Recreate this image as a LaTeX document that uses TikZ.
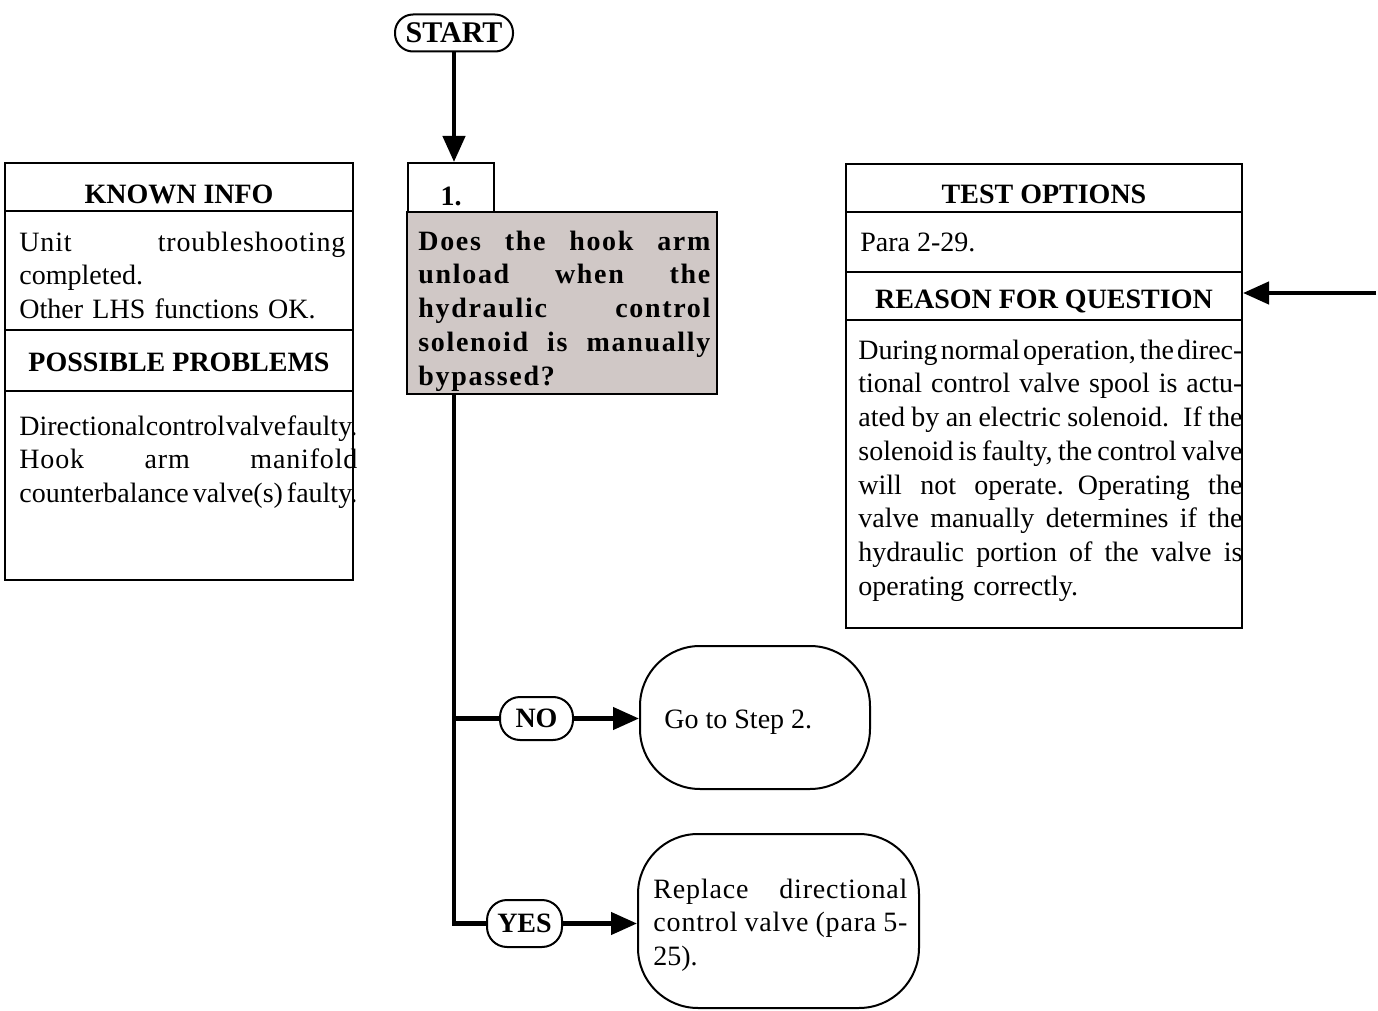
\documentclass[tikz,border=0pt]{standalone}
\usepackage{fontspec}
\setmainfont{Liberation Serif}
\newfontfamily\spacedfont[LetterSpace=6]{Liberation Serif}
\newfontfamily\loosefont[LetterSpace=3]{Liberation Serif}
\usetikzlibrary{arrows.meta}
\newcommand{\basefont}{\fontsize{14}{16.9}\selectfont}
\newcommand{\jfill}[2][\linewidth]{\makebox[#1][s]{\spaceskip=0.25em plus 2em minus 0.25em\relax #2}}
\newcommand{\jline}[2][\linewidth]{\jfill[#1]{#2}\\}
\definecolor{querygray}{RGB}{208,200,198}
\tikzset{
  frame/.style={draw, line width=1pt, inner sep=0pt},
  rule/.style={line width=1pt},
  headtext/.style={font=\basefont\bfseries},
  bodytext/.style={anchor=base west, inner sep=0pt},
  wire/.style={line width=2.2pt, line join=miter},
  flow/.style={wire, -{Triangle[length=13pt,width=11pt]}},
  pill/.style={draw, line width=1pt, rounded corners=10pt, inner sep=0pt, font=\basefont\bfseries},
  result/.style={draw, line width=1pt, rounded corners=30pt, inner sep=0pt},
}
\begin{document}
\begin{tikzpicture}[x=0.5pt, y=-0.5pt, every node/.style={font=\basefont}]
\useasboundingbox (0,0) rectangle (1378,1011);
% left column
\node[frame, minimum width=174pt, minimum height=208.5pt] (knownbox) at (179,371.5) {};
\foreach \y in {211,330,391} \draw[rule] (knownbox.west |- 0,\y) -- (knownbox.east |- 0,\y);
\node[headtext] (knownhead) at (179,194) {KNOWN INFO};
\node[bodytext, text width=169pt] (knowntext) at (19,251)
  {\jline[163pt]{\loosefont Unit troubleshooting}completed.\\\mbox{Other LHS functions OK.}};
\node[headtext] (probhead) at (179,362) {POSSIBLE PROBLEMS};
\node[bodytext, text width=169pt] (probtext) at (19,435)
  {\jline{Directional control valve faulty.}\jline{\loosefont Hook arm manifold}\jfill{counterbalance valve(s) faulty.}};
% right column
\node[frame, minimum width=198pt, minimum height=232pt] (optbox) at (1044,396) {};
\foreach \y in {212,272,320} \draw[rule] (optbox.west |- 0,\y) -- (optbox.east |- 0,\y);
\node[headtext] (opthead) at (1044,194) {TEST OPTIONS};
\node[bodytext] (opttext) at (860,252) {Para 2-29.};
\node[headtext] (reasonhead) at (1044,301) {REASON FOR QUESTION};
\node[bodytext, text width=192pt] (reasontext) at (858,359)
  {\jline{During normal operation, the direc-}\jline{tional control valve spool is actu-}%
   \jline{ated by an electric solenoid.  If the}\jline{solenoid is faulty, the control valve}%
   \jline{will not operate.  Operating the}\jline{valve manually determines if the}%
   \jline{hydraulic portion of the valve is}\mbox{operating correctly.}};
% middle column
\node[pill, minimum width=59pt, minimum height=18.5pt, rounded corners=9pt, font=\fontsize{15}{18}\selectfont\bfseries] (start) at (454,33) {START};
\node[frame, minimum width=43pt, minimum height=24.5pt] (step) at (451,187.5) {};
\node[headtext] (steplabel) at (451,196) {1.};
\node[frame, fill=querygray, minimum width=155pt, minimum height=91pt] (question) at (562,303) {};
\node[bodytext, text width=146pt, font=\basefont\spacedfont\bfseries] (querytext) at (418,250)
  {\jline{Does the hook arm}\jline{unload when the}\jline{hydraulic control}%
   \jline{solenoid is manually}\mbox{bypassed?}};
\node[pill, minimum width=36.5pt, minimum height=21.5pt] (no) at (536.5,718.5) {NO};
\node[pill, minimum width=37.5pt, minimum height=23.5pt] (yes) at (524.5,923.5) {YES};
\node[result, minimum width=115pt, minimum height=71.5pt] (go) at (755,717.5) {};
\node[bodytext] (gotext) at (664,728) {Go to Step 2.};
\node[result, minimum width=140.5pt, minimum height=87pt] (replace) at (778.5,921) {};
\node[bodytext, text width=127pt] (replacetext) at (653,898)
  {\jline{\loosefont Replace directional}\jline{\loosefont control valve (para 5-}25).};
% connectors
\draw[flow] (start.south) -- (start.south |- step.north);
\coordinate (bend) at (start |- yes);
\draw[wire] (start |- question.south) -- (bend) -- (yes.west);
\draw[wire] (start |- no) -- (no.west);
\draw[flow] (no.east) -- (no.east -| go.west);
\draw[flow] (yes.east) -- (yes.east -| replace.west);
\coordinate (feed) at (1376,293);
\draw[flow] (feed) -- (feed -| optbox.east);
\end{tikzpicture}
\end{document}
